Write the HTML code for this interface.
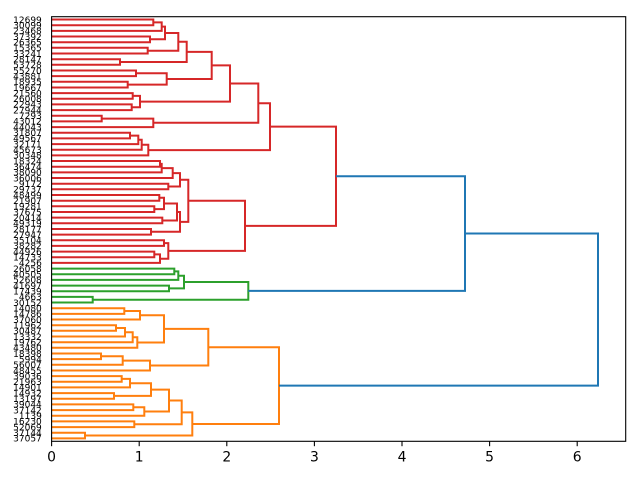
<!DOCTYPE html>
<html>
<head>
<meta charset="utf-8">
<style>
html,body{margin:0;padding:0;background:#fff;}
svg{display:block;}
.lb{font-family:"DejaVu Sans","Liberation Sans",sans-serif;font-size:9px;fill:#000;}
.tk{font-family:"DejaVu Sans","Liberation Sans",sans-serif;font-size:13.9px;fill:#000;}
</style>
</head>
<body>
<svg width="640" height="480" viewBox="0 0 640 480" xmlns="http://www.w3.org/2000/svg">
<rect width="640" height="480" fill="#fff"/>
<g fill="none" stroke-width="2" stroke-linejoin="miter" stroke-linecap="butt">
<g stroke="#d62728">
<path d="M51.6 19.5 H153.3 V25.2 H51.6"/>
<path d="M153.3 22.4 H161.7 V30.9 H51.6"/>
<path d="M51.6 36.5 H150 V42.2 H51.6"/>
<path d="M161.7 26.6 H165 V39.3 H150"/>
<path d="M51.6 47.8 H147.7 V53.5 H51.6"/>
<path d="M165 33.0 H178.3 V50.7 H147.7"/>
<path d="M51.6 59.2 H120 V64.8 H51.6"/>
<path d="M178.3 41.8 H186.7 V62.0 H120"/>
<path d="M51.6 70.5 H136 V76.1 H51.6"/>
<path d="M51.6 81.8 H127.7 V87.5 H51.6"/>
<path d="M136 73.3 H166.7 V84.6 H127.7"/>
<path d="M186.7 51.9 H211.7 V79.0 H166.7"/>
<path d="M51.6 93.1 H132.7 V98.8 H51.6"/>
<path d="M51.6 104.4 H131.7 V110.1 H51.6"/>
<path d="M132.7 95.9 H140 V107.3 H131.7"/>
<path d="M211.7 65.4 H230 V101.6 H140"/>
<path d="M51.6 115.8 H101.7 V121.4 H51.6"/>
<path d="M101.7 118.6 H153.3 V127.1 H51.6"/>
<path d="M230 83.5 H258.3 V122.8 H153.3"/>
<path d="M51.6 132.7 H130 V138.4 H51.6"/>
<path d="M130 135.6 H138.3 V144.1 H51.6"/>
<path d="M138.3 139.8 H141.7 V149.7 H51.6"/>
<path d="M141.7 144.8 H148.3 V155.4 H51.6"/>
<path d="M258.3 103.2 H270 V150.1 H148.3"/>
<path d="M51.6 161.0 H160 V166.7 H51.6"/>
<path d="M160 163.9 H161.7 V172.4 H51.6"/>
<path d="M161.7 168.1 H172.7 V178.0 H51.6"/>
<path d="M51.6 183.7 H168.3 V189.3 H51.6"/>
<path d="M172.7 173.1 H180 V186.5 H168.3"/>
<path d="M51.6 195.0 H159.3 V200.7 H51.6"/>
<path d="M51.6 206.3 H154.3 V212.0 H51.6"/>
<path d="M159.3 197.8 H164 V209.1 H154.3"/>
<path d="M51.6 217.6 H162.3 V223.3 H51.6"/>
<path d="M164 203.5 H177 V220.5 H162.3"/>
<path d="M51.6 229.0 H151 V234.6 H51.6"/>
<path d="M177 212.0 H180 V231.8 H151"/>
<path d="M180 179.8 H188.3 V221.9 H180"/>
<path d="M51.6 240.3 H164 V245.9 H51.6"/>
<path d="M51.6 251.6 H154.3 V257.3 H51.6"/>
<path d="M154.3 254.4 H160 V262.9 H51.6"/>
<path d="M164 243.1 H168.3 V258.7 H160"/>
<path d="M188.3 200.8 H245 V250.9 H168.3"/>
<path d="M270 126.6 H336 V225.9 H245"/>
</g>
<g stroke="#2ca02c">
<path d="M51.6 268.6 H174.3 V274.2 H51.6"/>
<path d="M174.3 271.4 H178.3 V279.9 H51.6"/>
<path d="M51.6 285.6 H169 V291.2 H51.6"/>
<path d="M178.3 275.7 H184 V288.4 H169"/>
<path d="M51.6 296.9 H92.7 V302.5 H51.6"/>
<path d="M184 282.0 H248.3 V299.7 H92.7"/>
</g>
<g stroke="#ff7f0e">
<path d="M51.6 308.2 H124.3 V313.9 H51.6"/>
<path d="M124.3 311.0 H140 V319.5 H51.6"/>
<path d="M51.6 325.2 H116 V330.8 H51.6"/>
<path d="M116 328.0 H125 V336.5 H51.6"/>
<path d="M125 332.3 H132.7 V342.2 H51.6"/>
<path d="M132.7 337.2 H137.3 V347.8 H51.6"/>
<path d="M140 315.3 H164 V342.5 H137.3"/>
<path d="M51.6 353.5 H101 V359.1 H51.6"/>
<path d="M101 356.3 H122.7 V364.8 H51.6"/>
<path d="M122.7 360.6 H150 V370.5 H51.6"/>
<path d="M164 328.9 H208.3 V365.5 H150"/>
<path d="M51.6 376.1 H121.7 V381.8 H51.6"/>
<path d="M121.7 378.9 H130 V387.4 H51.6"/>
<path d="M51.6 393.1 H114 V398.8 H51.6"/>
<path d="M130 383.2 H151 V395.9 H114"/>
<path d="M51.6 404.4 H133.3 V410.1 H51.6"/>
<path d="M133.3 407.2 H144.3 V415.7 H51.6"/>
<path d="M151 389.6 H169 V411.5 H144.3"/>
<path d="M51.6 421.4 H134.3 V427.1 H51.6"/>
<path d="M169 400.5 H181.7 V424.2 H134.3"/>
<path d="M51.6 432.7 H85 V438.4 H51.6"/>
<path d="M181.7 412.4 H192.3 V435.5 H85"/>
<path d="M208.3 347.2 H279 V424.0 H192.3"/>
</g>
<g stroke="#1f77b4">
<path d="M336 176.2 H465 V290.9 H248.3"/>
<path d="M465 233.5 H598 V385.6 H279"/>
</g>
</g>
<rect x="51.6" y="16.7" width="574.1" height="424.6" fill="none" stroke="#000" stroke-width="1.1"/>
<g stroke="#000" stroke-width="1.1">
<line x1="51.6" y1="441.3" x2="51.6" y2="446.2"/>
<line x1="139.2" y1="441.3" x2="139.2" y2="446.2"/>
<line x1="226.8" y1="441.3" x2="226.8" y2="446.2"/>
<line x1="314.4" y1="441.3" x2="314.4" y2="446.2"/>
<line x1="402.0" y1="441.3" x2="402.0" y2="446.2"/>
<line x1="489.6" y1="441.3" x2="489.6" y2="446.2"/>
<line x1="577.2" y1="441.3" x2="577.2" y2="446.2"/>
</g>
<g class="tk" text-anchor="middle">
<text x="51.6" y="461.5">0</text>
<text x="139.2" y="461.5">1</text>
<text x="226.8" y="461.5">2</text>
<text x="314.4" y="461.5">3</text>
<text x="402.0" y="461.5">4</text>
<text x="489.6" y="461.5">5</text>
<text x="577.2" y="461.5">6</text>
</g>
<g class="lb" text-anchor="end">
<text x="41.8" y="22.8">12699</text>
<text x="41.8" y="28.5">30099</text>
<text x="41.8" y="34.2">23468</text>
<text x="41.8" y="39.8">37392</text>
<text x="41.8" y="45.5">26365</text>
<text x="41.8" y="51.1">15365</text>
<text x="41.8" y="56.8">33241</text>
<text x="41.8" y="62.5">28147</text>
<text x="41.8" y="68.1">53728</text>
<text x="41.8" y="73.8">55270</text>
<text x="41.8" y="79.4">43881</text>
<text x="41.8" y="85.1">18935</text>
<text x="41.8" y="90.8">19667</text>
<text x="41.8" y="96.4">21560</text>
<text x="41.8" y="102.1">26008</text>
<text x="41.8" y="107.7">22943</text>
<text x="41.8" y="113.4">27944</text>
<text x="41.8" y="119.1">7293</text>
<text x="41.8" y="124.7">43012</text>
<text x="41.8" y="130.4">44043</text>
<text x="41.8" y="136.0">31807</text>
<text x="41.8" y="141.7">49567</text>
<text x="41.8" y="147.4">32171</text>
<text x="41.8" y="153.0">45673</text>
<text x="41.8" y="158.7">30348</text>
<text x="41.8" y="164.3">18324</text>
<text x="41.8" y="170.0">36474</text>
<text x="41.8" y="175.7">38090</text>
<text x="41.8" y="181.3">36006</text>
<text x="41.8" y="187.0">9172</text>
<text x="41.8" y="192.6">29737</text>
<text x="41.8" y="198.3">48499</text>
<text x="41.8" y="204.0">21907</text>
<text x="41.8" y="209.6">19281</text>
<text x="41.8" y="215.3">37675</text>
<text x="41.8" y="220.9">20414</text>
<text x="41.8" y="226.6">49319</text>
<text x="41.8" y="232.3">28177</text>
<text x="41.8" y="237.9">27947</text>
<text x="41.8" y="243.6">35104</text>
<text x="41.8" y="249.2">38282</text>
<text x="41.8" y="254.9">44926</text>
<text x="41.8" y="260.6">14733</text>
<text x="41.8" y="266.2">4256</text>
<text x="41.8" y="271.9">26058</text>
<text x="41.8" y="277.5">40505</text>
<text x="41.8" y="283.2">52608</text>
<text x="41.8" y="288.9">41697</text>
<text x="41.8" y="294.5">17439</text>
<text x="41.8" y="300.2">4663</text>
<text x="41.8" y="305.8">30152</text>
<text x="41.8" y="311.5">14080</text>
<text x="41.8" y="317.2">14786</text>
<text x="41.8" y="322.8">37060</text>
<text x="41.8" y="328.5">11962</text>
<text x="41.8" y="334.1">30487</text>
<text x="41.8" y="339.8">13332</text>
<text x="41.8" y="345.5">19762</text>
<text x="41.8" y="351.1">43480</text>
<text x="41.8" y="356.8">18398</text>
<text x="41.8" y="362.4">5994</text>
<text x="41.8" y="368.1">56007</text>
<text x="41.8" y="373.8">48455</text>
<text x="41.8" y="379.4">39036</text>
<text x="41.8" y="385.1">21963</text>
<text x="41.8" y="390.7">14901</text>
<text x="41.8" y="396.4">14932</text>
<text x="41.8" y="402.1">13197</text>
<text x="41.8" y="407.7">39044</text>
<text x="41.8" y="413.4">37142</text>
<text x="41.8" y="419.0">1139</text>
<text x="41.8" y="424.7">16230</text>
<text x="41.8" y="430.4">52069</text>
<text x="41.8" y="436.0">37144</text>
<text x="41.8" y="441.7">37057</text>
</g>
</svg>
</body>
</html>
